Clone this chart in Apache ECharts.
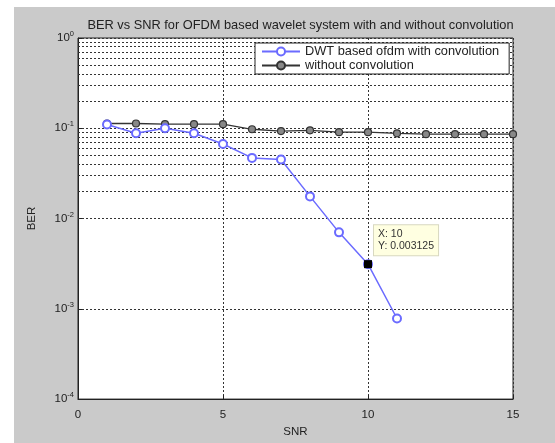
<!DOCTYPE html>
<html>
<head>
<meta charset="utf-8">
<script src="https://cdn.jsdelivr.net/npm/echarts@6/dist/echarts.min.js"></script>
<style>
  html, body { margin: 0; padding: 0; background: #fff; }
  #chart { width: 555px; height: 443px; }
</style>
</head>
<body>
<div id="chart"></div>
<script>
// SNR values (x axis)
const snr = [1, 2, 3, 4, 5, 6, 7, 8, 9, 10, 11, 12, 13, 14, 15];
// BER, DWT based ofdm with convolution (SNR 1..11)
const berConv = [0.11, 0.088, 0.1, 0.088, 0.067, 0.047, 0.045, 0.0176, 0.00703, 0.003125, 0.00078125];
// BER, without convolution (SNR 1..15)
const berNoConv = [0.113, 0.113, 0.111, 0.111, 0.111, 0.0975, 0.093, 0.095, 0.0905, 0.0905, 0.088, 0.086, 0.086, 0.086, 0.086];
// data tip shown on the plot
const tipPoint = [10, 0.003125];
const titleText = "BER vs SNR for OFDM based wavelet system with and without convolution";
const seriesNames = ["DWT based ofdm with convolution", "without convolution"];

// minor log grid lines at 2..9 x 10^k
const minorLines = [];
for (let e = -4; e < 0; e++) {
    for (let m = 2; m <= 9; m++) minorLines.push({ yAxis: m * Math.pow(10, e) });
}

const FONT = "Liberation Sans";
const grid = { left: 78, top: 38, width: 435, height: 368 };
const dotted = { type: [2, 2], color: "#333", width: 1 };

const chart = echarts.init(document.getElementById("chart"));
chart.setOption({
    animation: false,
    textStyle: { fontFamily: FONT },
    graphic: [
        { type: "rect", shape: { x: 14, y: 7, width: 541, height: 436 }, style: { fill: "#cacaca" }, z: -10 },
    ],
    title: {
        text: titleText,
        left: grid.left + grid.width / 2,
        textAlign: "center",
        top: 14,
        textStyle: { fontSize: 12.8, fontWeight: "normal", color: "#222", fontFamily: FONT },
    },
    legend: {
        orient: "vertical",
        left: 255,
        top: 43,
        backgroundColor: "#fff",
        borderColor: "#222",
        borderWidth: 1,
        padding: [2, 10, 2, 6],
        itemGap: 1,
        itemWidth: 38,
        itemHeight: 10,
        textStyle: { fontSize: 12.8, color: "#222", fontFamily: FONT },
        data: seriesNames,
    },
    grid: {
        left: grid.left,
        top: grid.top,
        width: grid.width,
        height: grid.height,
        show: true,
        backgroundColor: "#fff",
        borderColor: "#222",
        borderWidth: 1,
    },
    xAxis: {
        type: "value",
        min: 0,
        max: 15,
        interval: 5,
        name: "SNR",
        nameLocation: "middle",
        nameGap: 26,
        nameTextStyle: { fontSize: 11.5, color: "#222" },
        axisLine: { lineStyle: { color: "#222" } },
        axisTick: { inside: true, length: 4, lineStyle: { color: "#222" } },
        axisLabel: { fontSize: 11.5, color: "#222", margin: 10 },
        splitLine: { show: true, lineStyle: dotted },
    },
    yAxis: {
        type: "log",
        logBase: 10,
        min: 1e-4,
        max: 1,
        name: "BER",
        nameLocation: "middle",
        nameGap: 40,
        nameTextStyle: { fontSize: 11.5, color: "#222" },
        axisLine: { lineStyle: { color: "#222" } },
        axisTick: { inside: true, length: 4, lineStyle: { color: "#222" } },
        axisLabel: {
            margin: 4,
            formatter: (v) => "{b|10}{s|" + Math.round(Math.log10(v)) + "}",
            rich: {
                b: { fontSize: 11.5, color: "#222", fontFamily: FONT },
                s: { fontSize: 7.5, color: "#222", fontFamily: FONT, padding: [0, 0, 8, 0] },
            },
        },
        splitLine: { show: true, lineStyle: dotted },
    },
    series: [
        {
            name: seriesNames[1],
            type: "line",
            data: snr.map((x, i) => [x, berNoConv[i]]),
            symbol: "circle",
            symbolSize: 7,
            lineStyle: { color: "#333", width: 1.3 },
            itemStyle: { color: "#888", borderColor: "#333", borderWidth: 1.2 },
            markLine: {
                silent: true,
                symbol: "none",
                label: { show: false },
                lineStyle: dotted,
                data: minorLines,
                z: 1,
            },
            z: 3,
        },
        {
            name: seriesNames[0],
            type: "line",
            data: berConv.map((y, i) => [snr[i], y]),
            symbol: "emptyCircle",
            symbolSize: 8,
            lineStyle: { color: "#6b6bff", width: 1.5 },
            itemStyle: { color: "#6b6bff", borderColor: "#5555ff", borderWidth: 1.3 },
            markPoint: {
                symbol: "rect",
                symbolSize: 8,
                itemStyle: { color: "#000" },
                label: {
                    show: true,
                    position: [10, -35],
                    formatter: "X: " + tipPoint[0] + "\nY: " + tipPoint[1],
                    backgroundColor: "#ffffe1",
                    borderColor: "#d8d8c0",
                    borderWidth: 1,
                    padding: [3, 4],
                    fontSize: 10.5,
                    lineHeight: 12,
                    color: "#333",
                    fontFamily: FONT,
                },
                data: [{ coord: tipPoint }],
            },
            z: 4,
        },
    ],
});
</script>
</body>
</html>
